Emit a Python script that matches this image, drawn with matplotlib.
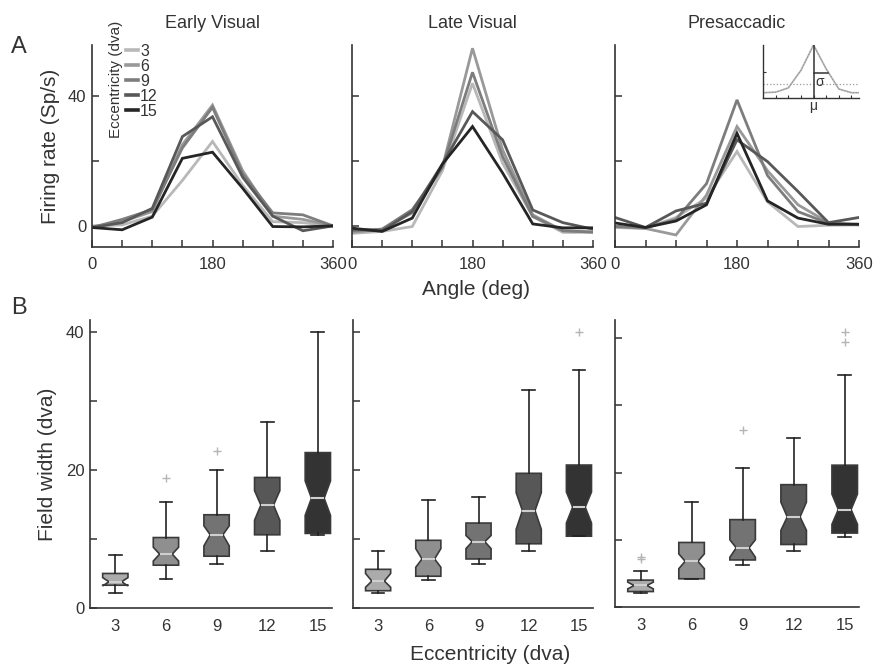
import matplotlib
matplotlib.use("Agg")
import matplotlib.pyplot as plt
import numpy as np

plt.rcParams['font.family'] = ['Liberation Sans', 'DejaVu Sans']

# ---------------- data ----------------
ANGLES = [0, 45, 90, 135, 180, 225, 270, 315, 360]
ECC = ['3', '6', '9', '12', '15']
LINE_COLORS = ['#b8b8b8', '#999999', '#7d7d7d', '#585858', '#252525']
BOX_COLORS = ['#ababab', '#8f8f8f', '#737373', '#575757', '#333333']

EV_3 = [0, 0.3, 3, 14, 26, 12.5, 1.3, 1, 0]
EV_6 = [-0.3, 1.3, 4.4, 25, 37.2, 17, 3, 2, 0]
EV_9 = [-0.5, 2, 5, 24, 36.5, 16, 4, 3.4, 0]
EV_12 = [-0.5, 1, 5.4, 27.5, 33.6, 15, 3, -1.5, 0]
EV_15 = [-0.5, -1.2, 2.7, 20.8, 22.7, 11.6, -0.2, -0.3, 0]

LV_3 = [-2.3, -1.7, -0.2, 17, 43.9, 19.3, 2.9, -2, -2]
LV_6 = [-2, -1, 4, 18, 54.7, 23.4, 3.4, -1.5, -1.9]
LV_9 = [-1.5, -1, 5, 18, 47.3, 21.3, 2.9, -1.5, -1.9]
LV_12 = [-1, -1.5, 4.4, 19, 35.2, 26.5, 4.9, 1, -1]
LV_15 = [-0.7, -1.7, 2.4, 19, 30.6, 16.3, 0.6, -0.6, -0.6]

PS_3 = [-0.5, -0.8, 2.6, 8.6, 22.9, 7.4, -0.2, 0.2, 0.3]
PS_6 = [-0.2, -0.8, -2.8, 9.5, 30.6, 17, 6.5, 1, 0.3]
PS_9 = [-0.2, -0.5, 2, 13, 38.8, 15.5, 4.4, 0.8, 0.5]
PS_12 = [2.6, -0.5, 4.6, 7, 26.5, 19.8, 10.6, 1, 2.6]
PS_15 = [0.9, -0.5, 1.5, 6.5, 28.5, 7.7, 2.4, 0.5, 0.5]

# inset schematic
INSET_X = [0, 1, 2, 3, 4, 5, 6, 7, 8]
INSET_Y = [0.1, 0.11, 0.19, 0.52, 1.0, 0.55, 0.17, 0.1, 0.1]
INSET_BASE = 0.27
INSET_SIGMA_Y = 0.48
INSET_MU = 4
INSET_SIGMA = 1.13

# box plot stats  (3, 6, 9, 12, 15 dva)
EV_LO = [2.1, 4.2, 6.3, 8.3, 10.5]
EV_Q1 = [3.3, 6.2, 7.5, 10.6, 10.8]
EV_MED = [3.8, 7.8, 10.6, 14.9, 15.9]
EV_Q3 = [5.0, 10.2, 13.5, 18.9, 22.5]
EV_HI = [7.7, 15.4, 20.0, 26.9, 40.0]
EV_CILO = [3.2, 6.8, 9.0, 12.7, 13.4]
EV_CIHI = [4.4, 8.8, 11.9, 17.0, 18.4]
EV_FLIERS = [[], [18.8], [22.7], [], []]

LVB_LO = [2.1, 4.1, 6.3, 8.3, 10.4]
LVB_Q1 = [2.5, 4.6, 7.1, 9.3, 10.4]
LVB_MED = [3.9, 7.1, 9.6, 14.1, 14.6]
LVB_Q3 = [5.6, 9.8, 12.3, 19.5, 20.7]
LVB_HI = [8.2, 15.6, 16.0, 31.6, 34.4]
LVB_CILO = [3.0, 5.9, 8.6, 11.4, 12.3]
LVB_CIHI = [5.0, 8.6, 10.5, 16.7, 16.8]
LVB_FLIERS = [[], [], [], [], [40.0]]

PSB_LO = [2.1, 4.1, 6.3, 8.3, 10.4]
PSB_Q1 = [2.3, 4.2, 7.0, 9.3, 11.0]
PSB_MED = [3.2, 6.8, 8.8, 13.4, 14.5]
PSB_Q3 = [4.0, 9.6, 13.0, 18.2, 21.1]
PSB_HI = [5.4, 15.6, 20.7, 25.1, 34.5]
PSB_CILO = [2.7, 5.7, 7.4, 11.4, 12.3]
PSB_CIHI = [3.7, 7.9, 10.0, 15.6, 16.8]
PSB_FLIERS = [[7.1, 7.5], [], [26.4], [], [39.5, 40.9]]

TOP_TITLES = ['Early Visual', 'Late Visual', 'Presaccadic']

# ---------------- figure ----------------
W, H = 881, 670
fig = plt.figure(figsize=(W / 100, H / 100), dpi=100)

def rect(x0, y0, x1, y1):
    return [x0 / W, 1 - y1 / H, (x1 - x0) / W, (y1 - y0) / H]

SPINE = '#333333'
TICKFS = 12
LABELFS = 15

def style(ax):
    for s in ['top', 'right']:
        ax.spines[s].set_visible(False)
    for s in ['left', 'bottom']:
        ax.spines[s].set_color(SPINE)
        ax.spines[s].set_linewidth(1.2)
    ax.tick_params(direction='in', length=5, width=1.1, color=SPINE,
                   labelsize=TICKFS, labelcolor='#333333')

top_axes = [fig.add_axes(rect(92, 45, 333, 247)),
            fig.add_axes(rect(352, 45, 593, 247)),
            fig.add_axes(rect(615, 45, 859, 247))]
bot_axes = [fig.add_axes(rect(90, 320, 332, 608)),
            fig.add_axes(rect(353, 320, 593, 608)),
            fig.add_axes(rect(615, 320, 859, 607))]

top_data = [[EV_3, EV_6, EV_9, EV_12, EV_15],
            [LV_3, LV_6, LV_9, LV_12, LV_15],
            [PS_3, PS_6, PS_9, PS_12, PS_15]]

for i, ax in enumerate(top_axes):
    style(ax)
    handles = []
    for j, ser in enumerate(top_data[i]):
        h, = ax.plot(ANGLES, ser, color=LINE_COLORS[j], lw=2.0, label=ECC[j],
                     solid_joinstyle='miter')
        handles.append(h)
    ax.set_xlim(0, 360)
    ax.set_ylim(-6.5, 55.7)
    ax.set_xticks(ANGLES)
    ax.set_xticklabels(['0', '', '', '', '180', '', '', '', '360'])
    ax.set_yticks([0, 20, 40])
    if i == 0:
        ax.set_yticklabels(['0', '', '40'])
    else:
        ax.set_yticklabels(['', '', ''])
    ax.tick_params(axis='x', pad=7)
    ax.tick_params(axis='y', pad=4)
    ax.set_title(TOP_TITLES[i], fontsize=13, color='#333333', pad=12)
    if i == 0:
        leg = ax.legend(handles=handles, loc='upper left',
                        bbox_to_anchor=(0.14, 1.005), frameon=False,
                        fontsize=11.5, handlelength=0.75, handletextpad=0.15,
                        labelspacing=0.0, borderpad=0, borderaxespad=0)
        for t in leg.get_texts():
            t.set_color('#333333')
        for ln in leg.get_lines():
            ln.set_linewidth(2.6)
        ax.text(0.1, 0.83, 'Eccentricity (dva)', transform=ax.transAxes,
                rotation=90, ha='center', va='center', fontsize=11,
                color='#333333', clip_on=False)
        ax.set_ylabel('Firing rate (Sp/s)', fontsize=LABELFS, color='#333333',
                      labelpad=6)

fig.text(476 / W, 1 - 290 / H, 'Angle (deg)', ha='center', va='center',
         fontsize=LABELFS, color='#333333')

# inset
iax = fig.add_axes(rect(763, 45, 859, 98))
for s in ['top', 'right']:
    iax.spines[s].set_visible(False)
for s in ['left', 'bottom']:
    iax.spines[s].set_color(SPINE)
    iax.spines[s].set_linewidth(1.0)
iax.plot(INSET_X, INSET_Y, color='#b0b0b0', lw=1.2)
iax.plot(INSET_X, INSET_Y, color='#999999', lw=0.8, ls=':')
iax.axhline(INSET_BASE, color='#999999', lw=0.9, ls=':')
iax.plot([INSET_MU, INSET_MU], [0, 1.0], color='#333333', lw=1.1)
iax.plot([INSET_MU, INSET_MU + INSET_SIGMA], [INSET_SIGMA_Y, INSET_SIGMA_Y],
         color='#333333', lw=1.1)
iax.text(INSET_MU + 0.15, INSET_SIGMA_Y - 0.05, 'σ', fontsize=10, va='top',
         ha='left', color='#333333')
iax.set_xlim(0, 7.6)
iax.set_ylim(0, 1.0)
iax.set_xticks([1, 2, 3, 4, 5, 6, 7])
iax.set_xticklabels(['', '', '', 'μ', '', '', ''])
iax.set_yticks([0.5])
iax.set_yticklabels([''])
iax.tick_params(direction='in', length=2.5, width=0.8, color=SPINE,
                labelsize=10, pad=1, labelcolor='#333333')

# box plots
box_sets = [
    (EV_LO, EV_Q1, EV_MED, EV_Q3, EV_HI, EV_CILO, EV_CIHI, EV_FLIERS),
    (LVB_LO, LVB_Q1, LVB_MED, LVB_Q3, LVB_HI, LVB_CILO, LVB_CIHI, LVB_FLIERS),
    (PSB_LO, PSB_Q1, PSB_MED, PSB_Q3, PSB_HI, PSB_CILO, PSB_CIHI, PSB_FLIERS),
]
ylims_bot = [(0, 41.7), (0, 41.7), (0, 42.7)]

for i, ax in enumerate(bot_axes):
    style(ax)
    lo, q1, med, q3, hi, cilo, cihi, fl = box_sets[i]
    stats = []
    for k in range(5):
        stats.append(dict(med=med[k], q1=q1[k], q3=q3[k], whislo=lo[k],
                          whishi=hi[k], cilo=cilo[k], cihi=cihi[k],
                          fliers=np.array(fl[k])))
    bp = ax.bxp(stats, positions=[1, 2, 3, 4, 5], widths=0.5,
                shownotches=True, patch_artist=True,
                boxprops=dict(edgecolor='#3a3a3a', linewidth=1.2),
                medianprops=dict(color='#cfcfcf', linewidth=1.5),
                whiskerprops=dict(color='#222222', linewidth=1.2),
                capprops=dict(color='#222222', linewidth=1.2),
                flierprops=dict(marker='+', markeredgecolor='#b5b5b5',
                                markersize=6, markeredgewidth=1.0,
                                linestyle='none'))
    for patch, c in zip(bp['boxes'], BOX_COLORS):
        patch.set_facecolor(c)
    ax.set_xlim(0.5, 5.28)
    ax.set_ylim(*ylims_bot[i])
    ax.set_xticks([1, 2, 3, 4, 5])
    ax.set_xticklabels(ECC)
    ax.tick_params(axis='x', length=0, pad=8)
    ax.tick_params(axis='y', pad=4)
    ax.set_yticks([0, 10, 20, 30, 40])
    if i == 0:
        ax.set_yticklabels(['0', '', '20', '', '40'])
        ax.set_ylabel('Field width (dva)', fontsize=LABELFS, color='#333333',
                      labelpad=6)
    else:
        ax.set_yticklabels(['', '', '', '', ''])

fig.text(490 / W, 1 - 655 / H, 'Eccentricity (dva)', ha='center', va='center',
         fontsize=LABELFS, color='#333333')

fig.text(19 / W, 1 - 47 / H, 'A', ha='center', va='center', fontsize=17,
         color='#333333')
fig.text(19 / W, 1 - 308 / H, 'B', ha='center', va='center', fontsize=17,
         color='#333333')

fig.savefig('out.png', dpi=100)
